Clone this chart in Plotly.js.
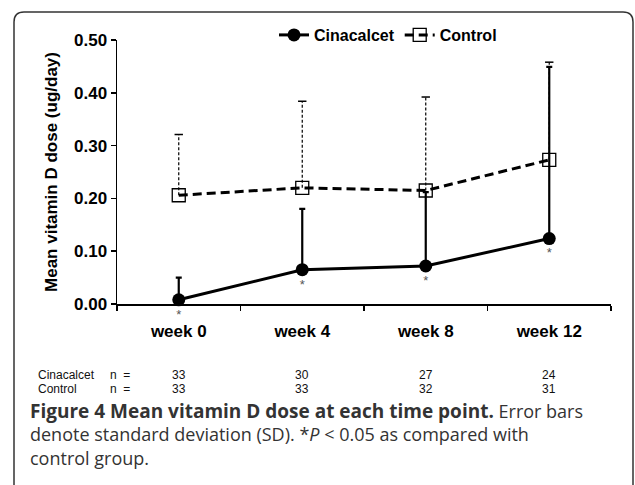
<!DOCTYPE html>
<html>
<head>
<meta charset="utf-8">
<script src="https://cdn.plot.ly/plotly-3.0.1.min.js"></script>
<style>
  html, body { margin: 0; padding: 0; background: #fff; }
  #chart { width: 635px; height: 485px; }
</style>
</head>
<body>
<div id="chart"></div>
<script>
// ---- data ----
const weeks = ['week 0', 'week 4', 'week 8', 'week 12'];
const cinaMean = [0.008, 0.065, 0.072, 0.124];
const cinaSD = [0.042, 0.115, 0.140, 0.325];
const ctrlMean = [0.206, 0.220, 0.215, 0.273];
const ctrlSD = [0.115, 0.164, 0.177, 0.185];
const cinaN = [33, 30, 27, 24];
const ctrlN = [33, 33, 32, 31];
const yTicks = [0, 0.1, 0.2, 0.3, 0.4, 0.5];
const yTickText = ['0.00', '0.10', '0.20', '0.30', '0.40', '0.50'];

// ---- layout helpers (pixel -> paper) ----
const W = 635, H = 485;
const M = { l: 117, r: 24, t: 40, b: 181 };
const PW = W - M.l - M.r, PH = H - M.t - M.b;
const px = x => (x - M.l) / PW;
const py = y => (H - M.b - y) / PH;

const FONT = '"Liberation Sans", Arial, sans-serif';
const CAP = '"Open Sans", "Noto Sans", sans-serif';

// control whiskers built from data
const wx = [], wy = [];
weeks.forEach((w, i) => { wx.push(w, w, null); wy.push(ctrlMean[i], ctrlMean[i] + ctrlSD[i], null); });
const capY = ctrlMean.map((m, i) => m + ctrlSD[i]);

const traces = [
  {
    x: weeks, y: cinaMean, name: 'Cinacalcet', type: 'scatter', mode: 'lines+markers+text',
    line: { color: '#000', width: 3 },
    marker: { symbol: 'circle', size: 13, color: '#000' },
    text: weeks.map(() => '*'), textposition: 'bottom center',
    textfont: { family: FONT, size: 13, color: '#555' },
    error_y: { type: 'data', symmetric: false, array: cinaSD, arrayminus: cinaMean.map(() => 0),
               color: '#000', thickness: 2.2, width: 3 },
    cliponaxis: false
  },
  {
    x: wx, y: wy, type: 'scatter', mode: 'lines', showlegend: false, hoverinfo: 'skip',
    line: { color: '#000', width: 1.2, dash: '3px,2px' }, connectgaps: false, cliponaxis: false
  },
  {
    x: weeks, y: capY, type: 'scatter', mode: 'markers', showlegend: false, hoverinfo: 'skip',
    marker: { symbol: 'line-ew', size: 6, line: { color: '#000', width: 1.5 } }, cliponaxis: false
  },
  {
    x: weeks, y: ctrlMean, name: 'Control', type: 'scatter', mode: 'lines+markers',
    line: { color: '#000', width: 3, dash: '9px,5px' },
    marker: { symbol: 'square-open', size: 13, color: '#000', line: { width: 1.3 } },
    cliponaxis: false
  }
];

const annotations = [];
const S = t => '<span style="font-size:12px">' + t + '</span>';
const tblFont = { family: FONT, size: 11, color: '#111' };
const tblY = py(382);
annotations.push({ xref: 'paper', yref: 'paper', x: px(36), y: tblY, xanchor: 'left', yanchor: 'middle', align: 'left',
  text: S('Cinacalcet') + '<br>' + S('Control'), showarrow: false, font: tblFont });
annotations.push({ xref: 'paper', yref: 'paper', x: px(108), y: tblY, xanchor: 'left', yanchor: 'middle', align: 'left',
  text: S('n  =') + '<br>' + S('n  ='), showarrow: false, font: tblFont });
weeks.forEach((w, i) => annotations.push({ xref: 'x', yref: 'paper', x: w, y: tblY, xanchor: 'center', yanchor: 'middle',
  text: S(String(cinaN[i])) + '<br>' + S(String(ctrlN[i])), showarrow: false, font: tblFont }));

// caption
const capText =
  '<span style="font-size:19px"><b>Figure 4 Mean vitamin D dose at each time point.</b></span> Error bars<br>' +
  'denote standard deviation (SD). *<i>P</i> &lt; 0.05 as compared with<br>' +
  'control group.';
annotations.push({ xref: 'paper', yref: 'paper', x: px(28), y: py(434), xanchor: 'left', yanchor: 'middle', align: 'left',
  text: capText, showarrow: false, font: { family: CAP, size: 18, color: '#333' } });

// frame (rounded top corners, open at bottom)
const L = px(14), R = px(633), T = py(12), B = py(492);
const rx = 10 / PW, ry = 10 / PH;
const framePath = `M ${L},${B} L ${L},${T - ry} Q ${L},${T} ${L + rx},${T} L ${R - rx},${T} Q ${R},${T} ${R},${T - ry} L ${R},${B}`;

const layout = {
  width: W, height: H,
  margin: M,
  paper_bgcolor: '#fff', plot_bgcolor: '#fff',
  font: { family: FONT, color: '#000' },
  showlegend: true,
  legend: { orientation: 'h', x: px(274), y: py(35), xanchor: 'left', yanchor: 'middle',
            font: { family: FONT, size: 16, color: '#000', weight: 'bold' }, itemwidth: 30, traceorder: 'normal',
            bgcolor: 'rgba(0,0,0,0)', tracegroupgap: 0 },
  xaxis: {
    type: 'category', categoryorder: 'array', categoryarray: weeks, range: [-0.5, 3.5],
    showline: true, linecolor: '#000', linewidth: 1.5, showgrid: false, zeroline: false,
    ticks: 'outside', ticklen: 5, tickwidth: 1.5, tickcolor: '#000', tickson: 'boundaries',
    tickfont: { family: FONT, size: 17, color: '#000', weight: 'bold' }, ticklabelstandoff: 11,
    fixedrange: true
  },
  yaxis: {
    range: [0, 0.5], tickvals: yTicks, ticktext: yTickText,
    showline: true, linecolor: '#000', linewidth: 1.5, showgrid: false, zeroline: false,
    ticks: 'outside', ticklen: 5, tickwidth: 1.5, tickcolor: '#000',
    tickfont: { family: FONT, size: 17, color: '#000', weight: 'bold' },
    title: { text: '<b>Mean vitamin D dose (ug/day)</b>', font: { family: FONT, size: 17, color: '#000' }, standoff: 12 },
    fixedrange: true
  },
  shapes: [{ type: 'path', xref: 'paper', yref: 'paper', path: framePath,
             line: { color: '#333', width: 1.5 }, fillcolor: 'rgba(0,0,0,0)' }],
  annotations: annotations
};

Plotly.newPlot('chart', traces, layout, { staticPlot: true, displayModeBar: false });
</script>
</body>
</html>
